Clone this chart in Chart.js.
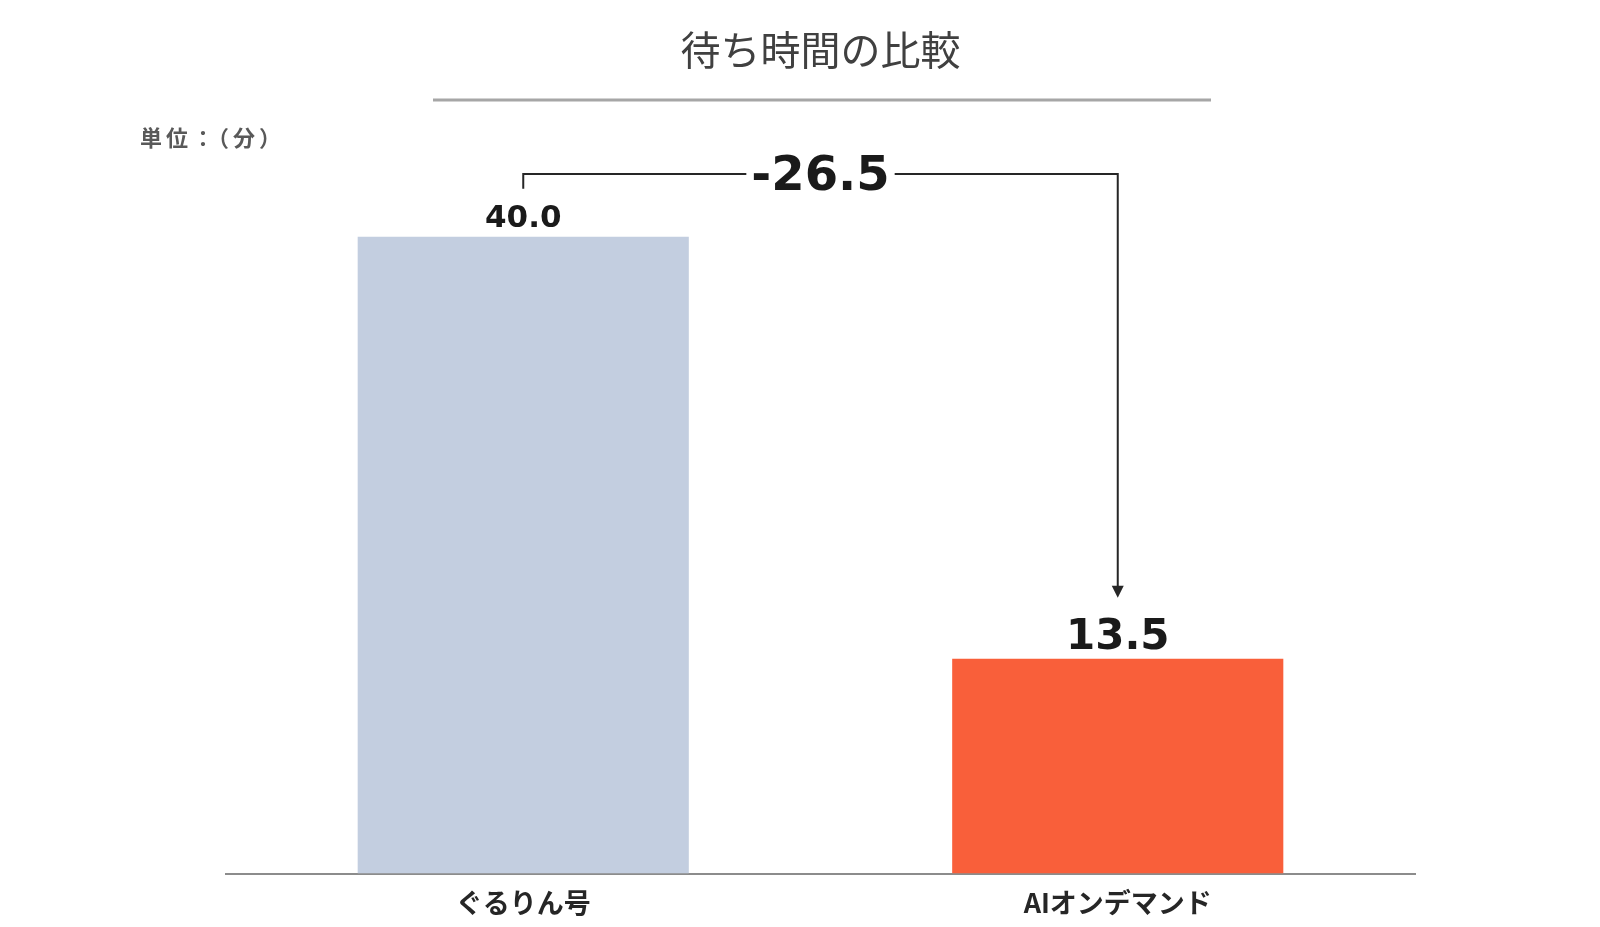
<!DOCTYPE html>
<html lang="ja">
<head>
<meta charset="utf-8">
<title>待ち時間の比較</title>
<script src="https://cdn.jsdelivr.net/npm/chart.js@4.4.1/dist/chart.umd.min.js"></script>
<style>
  html, body { margin: 0; padding: 0; background: #fff; }
  #wrap { width: 1600px; height: 927px; position: relative; }
</style>
</head>
<body>
<div id="wrap"><canvas id="waitChart"></canvas></div>
<script>
"use strict";

// Chart data
const chartTitle = "待ち時間の比較";
const unitLabel = "単位：（分）";
const categories = ["ぐるりん号", "AIオンデマンド"];
const waitMinutes = [40.0, 13.5];
const barColors = ["#C3CEE0", "#F95F3A"];
const valueFontSizes = [31, 42];
const yMax = 44;

const numFont = "'DejaVu Sans', Verdana, sans-serif";
const jpFont = "'Noto Sans CJK JP', 'Noto Sans', sans-serif";

// Draws title, unit, value labels and the difference bracket
const annotations = {
    id: "annotations",
    afterDraw(chart) {
        const ctx = chart.ctx;
        const area = chart.chartArea;
        const bars = chart.getDatasetMeta(0).data;
        const cx = (area.left + area.right) / 2;

        ctx.save();

        // Title + underline
        ctx.fillStyle = "#404040";
        ctx.font = "400 40px " + jpFont;
        ctx.textAlign = "center";
        ctx.textBaseline = "middle";
        ctx.fillText(chartTitle, cx, 50);
        ctx.strokeStyle = "#A6A6A6";
        ctx.lineWidth = 3;
        ctx.beginPath();
        ctx.moveTo(433, 100);
        ctx.lineTo(1211, 100);
        ctx.stroke();

        // Unit
        ctx.fillStyle = "#595959";
        ctx.font = "700 22px " + jpFont;
        ctx.textAlign = "left";
        ctx.letterSpacing = "4px";
        ctx.fillText(unitLabel, 140, 138);
        ctx.letterSpacing = "0px";

        // Value labels
        ctx.fillStyle = "#1a1a1a";
        ctx.textAlign = "center";
        ctx.textBaseline = "alphabetic";
        bars.forEach((bar, i) => {
            ctx.font = "bold " + valueFontSizes[i] + "px " + numFont;
            ctx.fillText(waitMinutes[i].toFixed(1), bar.x, bar.y - 10);
        });

        // Difference bracket
        const diff = waitMinutes[1] - waitMinutes[0];
        const diffText = diff.toFixed(1);
        const b0 = bars[0], b1 = bars[1];
        const by = area.top + 1;
        const mid = (b0.x + b1.x) / 2;
        ctx.font = "bold 48px " + numFont;
        const tw = ctx.measureText(diffText).width;
        const gapL = mid - tw / 2 - 5;
        const gapR = mid + tw / 2 + 5;
        const tipY = b1.y - 61;

        ctx.strokeStyle = "#262626";
        ctx.lineWidth = 2;
        ctx.beginPath();
        ctx.moveTo(b0.x, b0.y - 48);
        ctx.lineTo(b0.x, by);
        ctx.lineTo(gapL, by);
        ctx.moveTo(gapR, by);
        ctx.lineTo(b1.x, by);
        ctx.lineTo(b1.x, tipY - 10);
        ctx.stroke();

        ctx.fillStyle = "#262626";
        ctx.beginPath();
        ctx.moveTo(b1.x - 6, tipY - 12);
        ctx.lineTo(b1.x + 6, tipY - 12);
        ctx.lineTo(b1.x, tipY);
        ctx.closePath();
        ctx.fill();

        ctx.fillStyle = "#1a1a1a";
        ctx.textBaseline = "middle";
        ctx.fillText(diffText, mid, by + 4);

        ctx.restore();
    }
};

const ctx = document.getElementById("waitChart").getContext("2d");
const waitChart = new Chart(ctx, {
    type: "bar",
    data: {
        labels: categories,
        datasets: [{
            data: waitMinutes,
            backgroundColor: barColors,
            borderWidth: 0,
            barPercentage: 0.557,
            categoryPercentage: 1.0
        }]
    },
    options: {
        responsive: true,
        maintainAspectRatio: false,
        animation: false,
        layout: { padding: { left: 226, right: 185, top: 173, bottom: -5 } },
        plugins: {
            legend: { display: false },
            tooltip: { enabled: false }
        },
        scales: {
            x: {
                grid: { display: false, drawTicks: false },
                border: { display: true, color: "#8C8C8C", width: 2 },
                ticks: {
                    color: "#262626",
                    padding: 13,
                    font: { family: jpFont, size: 27, weight: "bold" }
                }
            },
            y: {
                display: false,
                min: 0,
                max: yMax
            }
        }
    },
    plugins: [annotations]
});
</script>
</body>
</html>
